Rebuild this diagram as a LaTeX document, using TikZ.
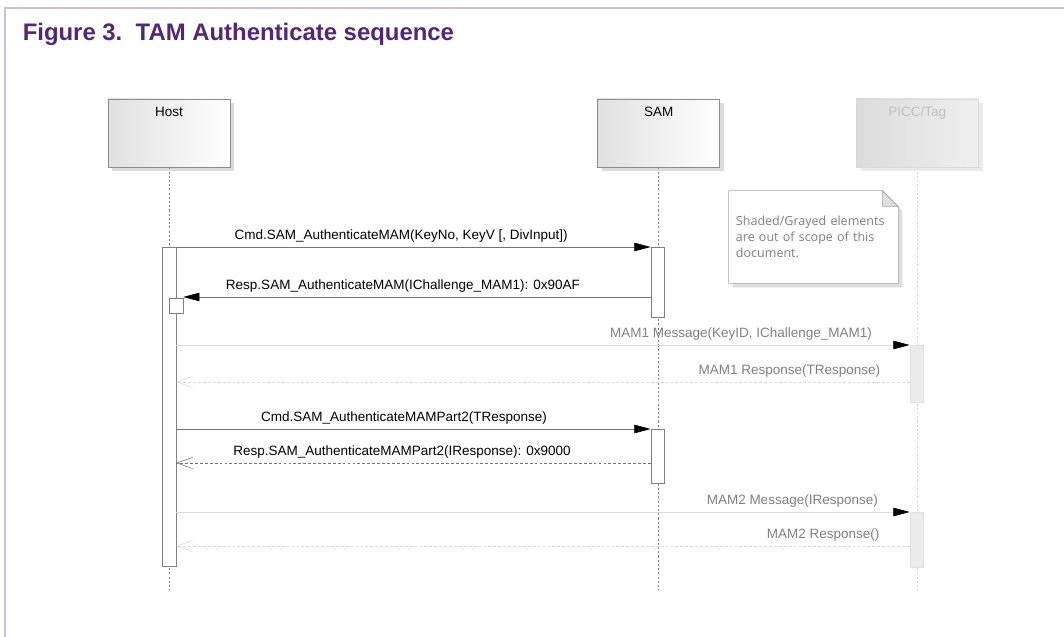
\documentclass[tikz,border=0pt]{standalone}
\usepackage{fontspec}
\setmainfont{Liberation Sans}
\newfontfamily\notefont{Open Sans}
\usepackage{xcolor}
\usetikzlibrary{arrows.meta,positioning,calc,shadows,backgrounds}
\definecolor{nxppurple}{RGB}{84,38,122}
\definecolor{framelilac}{RGB}{204,190,224}

\begin{document}
\begin{tikzpicture}[
    x=0.025cm, y=-0.025cm,
    font=\fontsize{9.6}{11.5}\selectfont,
    head/.style={draw=black!45, left color=black!12, right color=white,
                 minimum width=3.05cm, inner sep=0pt,
                 text height=0.44cm, text depth=1.26cm,
                 drop shadow={shadow xshift=3pt, shadow yshift=-3pt,
                              fill=black!14, opacity=1}},
    greyhead/.style={head, draw=black!15, left color=black!14, right color=black!6,
                     text=black!25,
                     drop shadow={shadow xshift=3pt, shadow yshift=-3pt,
                                  fill=black!8, opacity=1}},
    life/.style={black!50, dash pattern=on 1.5pt off 1.5pt},
    greylife/.style={black!15, dash pattern=on 1.5pt off 1.5pt},
    actbar/.style={draw=black!50, fill=white, minimum width=0.33cm, inner sep=0pt},
    greybar/.style={actbar, draw=black!12, fill=black!8},
    call/.style={black!55, -{Triangle[length=11.5pt, width=6pt, black]}},
    greycall/.style={black!15, -{Triangle[length=11.5pt, width=6pt, black]}},
    reply/.style={black!55, dash pattern=on 2pt off 1.5pt,
                  -{Straight Barb[length=11pt, width=8pt]}},
    greyreply/.style={black!15, dash pattern=on 2pt off 1.5pt,
                      -{Straight Barb[length=11pt, width=8pt]}},
    msg/.style={above, inner sep=3pt, text=black},
    greymsg/.style={msg, text=black!50},
    note/.style={text width=3.875cm, align=left, inner sep=0.175cm,
                 minimum width=4.225cm, minimum height=2.3cm,
                 font=\notefont\fontsize{8.9}{11.3}\selectfont, text=black!50}
  ]
  \useasboundingbox (0,0) rectangle (1064,637);

  % --- figure frame and caption ---
  \draw[framelilac, line width=1pt] (5,637) -- (5,8) -- (1064,8);
  \node[anchor=base west, inner sep=0pt, text=nxppurple,
        font=\bfseries\fontsize{17}{20}\selectfont] (title) at (22.5,41)
       {Figure 3.\ \ TAM Authenticate sequence};

  % --- lifeline heads ---
  \node[head] (host) at (169,133) {Host};
  \node[head, right=9.175cm of host] (sam) {SAM};
  \node[greyhead, right=3.4cm of sam] (picc) {PICC/Tag};

  % lifelines
  \coordinate (bottom) at (0,590);
  \draw[life] (host.south) -- (host.south |- bottom);
  \draw[life] (sam.south) -- (sam.south |- bottom);
  \draw[greylife] (picc.south) -- (picc.south |- bottom);

  % --- activation bars ---
  \node[actbar, minimum width=0.35cm, minimum height=7.975cm] (hbar) at (169,406.5) {};
  \node[actbar, minimum width=0.35cm, minimum height=0.375cm] (hsq) at (176,305.5) {};
  \node[actbar, minimum height=1.75cm] (sbar1) at (657.5,282) {};
  \node[actbar, minimum height=1.35cm] (sbar2) at (657.5,456) {};
  \node[greybar, minimum height=1.425cm] (pbar1) at (916.5,373.5) {};
  \node[greybar, minimum height=1.375cm] (pbar2) at (916.5,539.5) {};

  % --- note ---
  \node[note] (note) at (813.5,237)
       {Shaded/Grayed elements\\are out of scope of this\\document.};
  \begin{scope}[on background layer]
    \fill[black!13] ([shift={(4,4)}]note.north west) -- ([shift={(-12,4)}]note.north east)
      -- ([shift={(4,20)}]note.north east) -- ([shift={(4,4)}]note.south east)
      -- ([shift={(4,4)}]note.south west) -- cycle;
    \filldraw[draw=black!35, fill=white] (note.north west) -- ([xshift=-16*0.025cm]note.north east)
      -- ([shift={(0,16)}]note.north east) -- (note.south east) -- (note.south west) -- cycle;
    \filldraw[draw=black!35, fill=black!12] ([xshift=-16*0.025cm]note.north east)
      -- ([shift={(-16,16)}]note.north east) -- ([shift={(0,16)}]note.north east) -- cycle;
  \end{scope}

  % --- message rows ---
  \coordinate (r1) at (0,247);
  \coordinate (r2) at (0,297);
  \coordinate (r3) at (0,345);
  \coordinate (r4) at (0,382);
  \coordinate (r5) at (0,429);
  \coordinate (r6) at (0,463);
  \coordinate (r7) at (0,512);
  \coordinate (r8) at (0,546);

  \draw[call] (hbar.east |- r1) -- node[msg, pos=.474]
       {Cmd.SAM\_AuthenticateMAM(KeyNo, KeyV [, DivInput])} (sbar1.west |- r1);
  \draw[call] (sbar1.west |- r2) -- node[msg, pos=.53]
       {Resp.SAM\_AuthenticateMAM(IChallenge\_MAM1): 0x90AF} (hsq.east |- r2);
  \draw[greycall] (hbar.east |- r3) -- node[greymsg, pos=.77]
       {MAM1 Message(KeyID, IChallenge\_MAM1)} (pbar1.west |- r3);
  \draw[greyreply] (pbar1.west |- r4) -- node[greymsg, pos=.164]
       {MAM1 Response(TResponse)} (hbar.east |- r4);
  \draw[call] (hbar.east |- r5) -- node[msg, pos=.48]
       {Cmd.SAM\_AuthenticateMAMPart2(TResponse)} (sbar2.west |- r5);
  \draw[reply] (sbar2.west |- r6) -- node[msg, pos=.524]
       {Resp.SAM\_AuthenticateMAMPart2(IResponse): 0x9000} (hbar.east |- r6);
  \draw[greycall] (hbar.east |- r7) -- node[greymsg, pos=.84]
       {MAM2 Message(IResponse)} (pbar2.west |- r7);
  \draw[greyreply] (pbar2.west |- r8) -- node[greymsg, pos=.118]
       {MAM2 Response()} (hbar.east |- r8);

\end{tikzpicture}
\end{document}
